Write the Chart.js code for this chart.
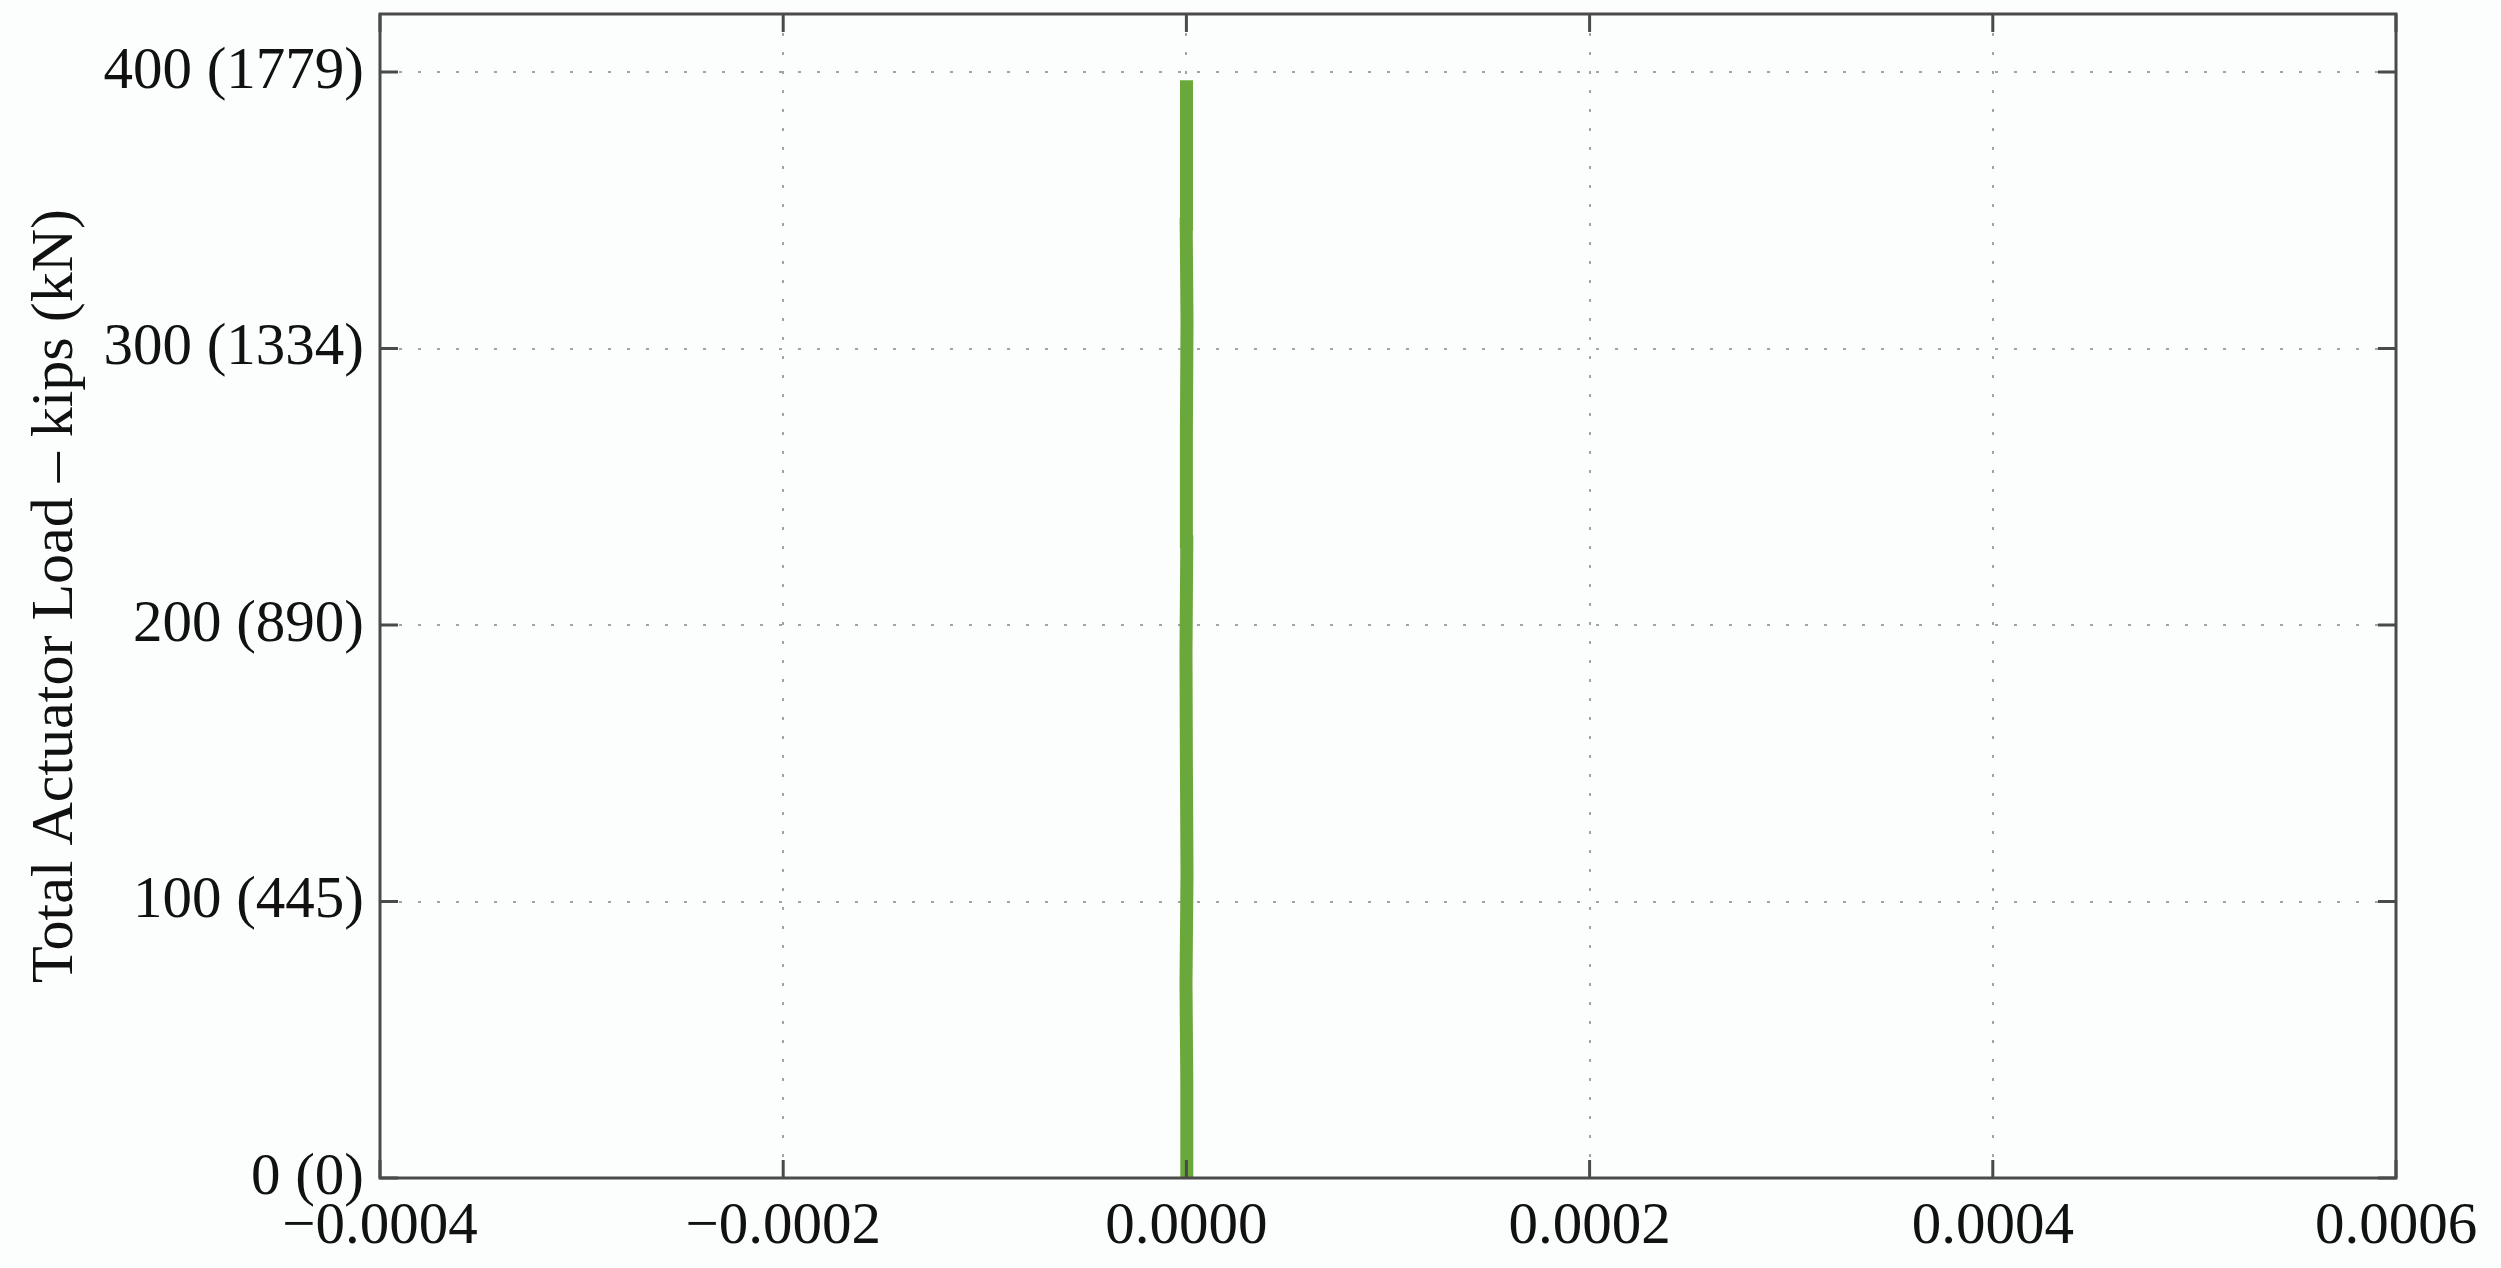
<!DOCTYPE html>
<html lang="en">
<head>
    <meta charset="UTF-8">
    <title>Total Actuator Load</title>
    <style>
        body {
            margin: 0;
            background-color: #fcfdfd;
        }

        #loadChart {
            display: block;
        }
    </style>
</head>
<body>
    <canvas id="loadChart" width="2501" height="1268"></canvas>
    <script src="https://cdn.jsdelivr.net/npm/chart.js"></script>
    <script>
        // data: a near-vertical trace at zero displacement
        const displacement = [0, 0.0000002, -0.0000002, 0.0000003, 0, -0.0000002, 0.0000002, 0, 0.0000003, -0.0000001, 0.0000001, 0];
        const actuatorLoad = [0, 35, 70, 110, 150, 190, 230, 270, 310, 345, 375, 397];

        const xTicks = [-0.0004, -0.0002, 0, 0.0002, 0.0004, 0.0006];
        const xTickLabels = ['\u22120.0004', '\u22120.0002', '0.0000', '0.0002', '0.0004', '0.0006'];
        const yTicks = [0, 100, 200, 300, 400];
        const yTickLabels = ['0 (0)', '100 (445)', '200 (890)', '300 (1334)', '400 (1779)'];

        const yTitle = 'Total Actuator Load \u2013 kips (kN)';

        // box round the plot and the short inner ticks, like the original plot
        const frame = {
            id: 'frame',
            afterDraw(chart) {
                const { ctx, chartArea: a, scales } = chart;
                ctx.save();
                ctx.strokeStyle = '#4a4a4a';
                ctx.lineWidth = 3;
                ctx.beginPath();
                xTicks.forEach(v => {
                    const px = scales.x.getPixelForValue(v);
                    ctx.moveTo(px, a.bottom); ctx.lineTo(px, a.bottom - 18);
                    ctx.moveTo(px, a.top); ctx.lineTo(px, a.top + 18);
                });
                yTicks.forEach(v => {
                    const py = scales.y.getPixelForValue(v);
                    ctx.moveTo(a.left, py); ctx.lineTo(a.left + 18, py);
                    ctx.moveTo(a.right, py); ctx.lineTo(a.right - 18, py);
                });
                ctx.stroke();
                ctx.strokeRect(a.left, a.top, a.right - a.left, a.bottom - a.top);
                ctx.restore();
            }
        };

        const points = displacement.map((x, i) => ({ x: x, y: actuatorLoad[i] }));

        new Chart(document.getElementById('loadChart'), {
            type: 'line',
            data: {
                datasets: [{
                    data: points,
                    borderColor: '#6aa83c',
                    borderWidth: 13,
                    borderCapStyle: 'butt',
                    pointRadius: 0,
                    fill: false,
                    tension: 0
                }]
            },
            options: {
                responsive: false,
                animation: false,
                layout: {
                    padding: { left: 0, right: 105, top: 14, bottom: 0 }
                },
                plugins: {
                    legend: { display: false },
                    tooltip: { enabled: false }
                },
                scales: {
                    x: {
                        type: 'linear',
                        min: -0.0004,
                        max: 0.0006,
                        afterBuildTicks: scale => {
                            scale.ticks = xTicks.map(v => ({ value: v }));
                        },
                        afterFit: scale => {
                            scale.height = 90;
                        },
                        grid: {
                            color: '#a0a4a8',
                            lineWidth: 2,
                            drawTicks: false
                        },
                        border: { display: false, dash: [3, 16] },
                        ticks: {
                            padding: 14,
                            color: '#111',
                            maxRotation: 0,
                            font: { family: 'Liberation Serif', size: 59 },
                            callback: (value) => {
                                const i = xTicks.findIndex(t => Math.abs(t - value) < 1e-9);
                                return i >= 0 ? xTickLabels[i] : '';
                            }
                        }
                    },
                    y: {
                        type: 'linear',
                        min: 0,
                        max: 421,
                        afterBuildTicks: scale => {
                            scale.ticks = yTicks.map(v => ({ value: v }));
                        },
                        afterFit: scale => {
                            scale.width = 380;
                            scale.paddingTop = 0;
                            scale.paddingBottom = 0;
                        },
                        grid: {
                            color: '#a0a4a8',
                            lineWidth: 2,
                            drawTicks: false
                        },
                        border: { display: false, dash: [3, 16] },
                        title: {
                            display: true,
                            text: yTitle,
                            color: '#111',
                            padding: { top: 20, bottom: 0 },
                            font: { family: 'Liberation Serif', size: 60 }
                        },
                        ticks: {
                            padding: 16,
                            color: '#111',
                            font: { family: 'Liberation Serif', size: 59 },
                            callback: (value) => {
                                const i = yTicks.indexOf(value);
                                return i >= 0 ? yTickLabels[i] : '';
                            }
                        }
                    }
                }
            },
            plugins: [frame]
        });
    </script>
</body>
</html>
